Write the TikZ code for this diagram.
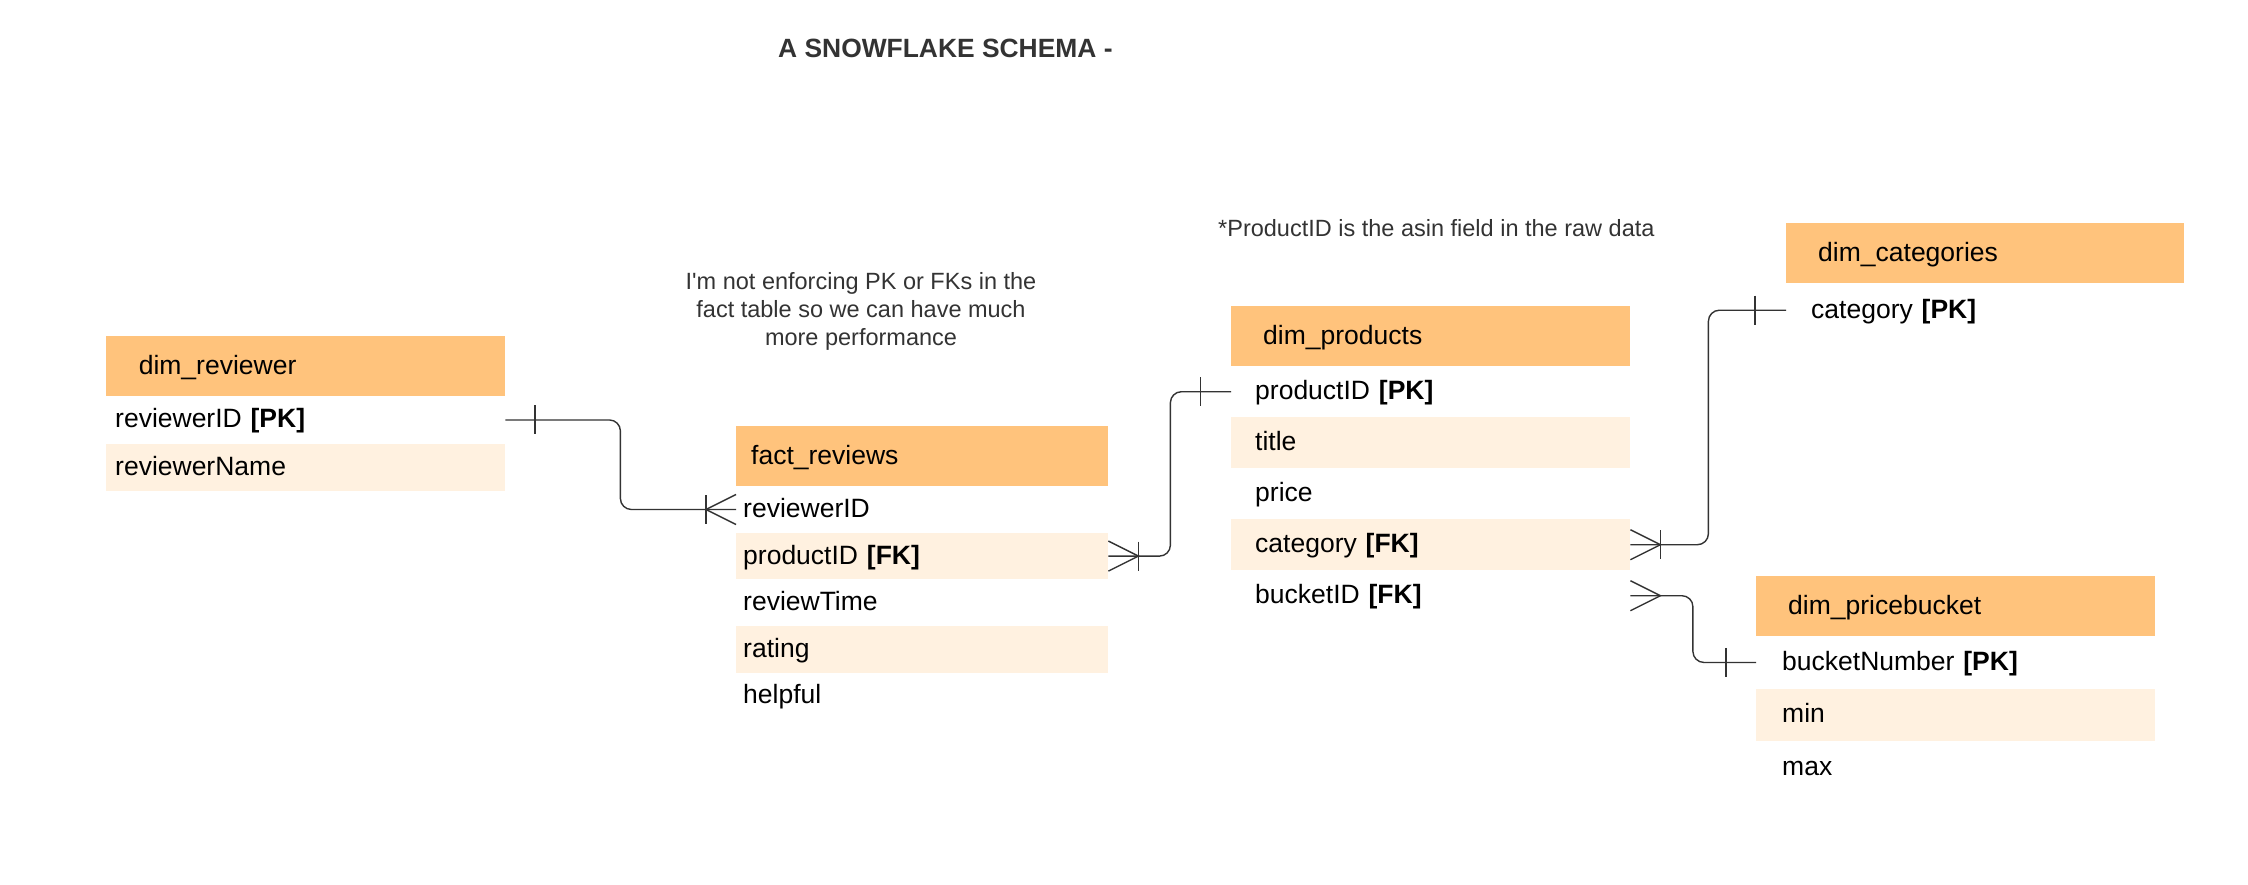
\documentclass[tikz,border=0pt]{standalone}
\usepackage{fontspec}
\setmainfont{Liberation Sans}
\usetikzlibrary{calc,positioning}
\definecolor{headorange}{HTML}{FFC37C}
\definecolor{rowcream}{HTML}{FFF1E0}
\definecolor{inkgray}{HTML}{333333}
\tikzset{
  tbl head/.style={fill=headorange, anchor=north west, inner ysep=0pt,
    text height=16pt, text depth=0pt, align=left,
    font=\fontsize{26.5}{30}\selectfont},
  tbl field/.style={anchor=north west, inner ysep=0pt,
    text height=16pt, text depth=0pt, align=left,
    font=\fontsize{26.5}{30}\selectfont},
  tick line/.style={draw=inkgray, line width=1.4pt},
  link/.style={tick line, rounded corners=11pt}
}
% crow's foot: anchor, direction away from the table
\newcommand{\crowsfoot}[2]{%
  \draw[tick line] ($(#1)+(0,-15)$) -- ($(#1)+(#2*30,0)$) -- ($(#1)+(0,15)$);}
% one-bar: anchor, offset from the table
\newcommand{\barmark}[2]{%
  \draw[tick line] ($(#1)+(#2,-14.5)$) -- ++(0,29);}

\begin{document}
\begin{tikzpicture}[x=1pt,y=-1pt]
  \useasboundingbox (0,0) rectangle (2248,884);

  \node [anchor=base west, inner sep=0pt, text=inkgray,
    font=\fontsize{26.4}{30}\selectfont\bfseries] at (778,57.3) (title) {A SNOWFLAKE SCHEMA -};

  \node [anchor=north, inner sep=0pt, text=inkgray, align=center,
    font=\fontsize{23.5}{28}\selectfont] at (861,272.2) (fact_note)
    {I\textquotesingle m not enforcing PK or FKs in the\\fact table so we can have much\\more performance};
  \node [anchor=base west, inner sep=0pt, text=inkgray,
    font=\fontsize{23.5}{28}\selectfont] at (1218,236.6) (asin_note)
    {*ProductID is the asin field in the raw data};

  \foreach \tb/\x/\y/\w/\rh/\hx/\fx/\title/\fields in {
    rev/106/336/399/47.5/32.6/9/dim\_reviewer/{reviewerID \textbf{[PK]},reviewerName},
    fact/736/426/372/46.6/15/7/fact\_reviews/{reviewerID,productID \textbf{[FK]},reviewTime,rating,helpful},
    prod/1231/306/399/51/32/24/dim\_products/{productID \textbf{[PK]},title,price,category \textbf{[FK]},bucketID \textbf{[FK]}},
    cat/1786/223/398/54/32/25/dim\_categories/{category \textbf{[PK]}},
    pb/1756/576/399/52.5/32/26/dim\_pricebucket/{bucketNumber \textbf{[PK]},min,max}}
  {
    \pgfmathsetmacro{\htw}{\w-2*\hx}
    \node [tbl head, inner xsep=\hx pt, text width=\htw pt, minimum height=60pt]
      at (\x,\y) (\tb_hd) {\title};

    \pgfmathsetmacro{\ftw}{\w-2*\fx}
    \foreach \f [count=\i] in \fields
    {
      \pgfmathsetmacro{\ry}{\y+60+(\i-1)*\rh}
      \ifodd\i \def\rowfill{white}\else \def\rowfill{rowcream}\fi
      \node [tbl field, fill=\rowfill, inner xsep=\fx pt, text width=\ftw pt,
        minimum height=\rh pt] at (\x,\ry) (\tb_\i) {\f};
    }
  }

  % reviewer -> fact
  \draw[link] (rev_1.east) -- ++(115,0) |- (fact_1.west);
  \barmark{rev_1.east}{29.5}
  \crowsfoot{fact_1.west}{-1}
  \barmark{fact_1.west}{-30}

  % fact -> products
  \draw[link] (fact_2.east) -- ++(62,0) |- (prod_1.west);
  \crowsfoot{fact_2.east}{1}
  \barmark{fact_2.east}{30}
  \barmark{prod_1.west}{-30.5}

  % products -> categories
  \draw[link] (prod_4.east) -- ++(78,0) |- (cat_1.west);
  \crowsfoot{prod_4.east}{1}
  \barmark{prod_4.east}{30}
  \barmark{cat_1.west}{-31}

  % products -> price buckets
  \draw[link] (prod_5.east) -- ++(62.5,0) |- (pb_1.west);
  \crowsfoot{prod_5.east}{1}
  \barmark{pb_1.west}{-30}
\end{tikzpicture}
\end{document}
